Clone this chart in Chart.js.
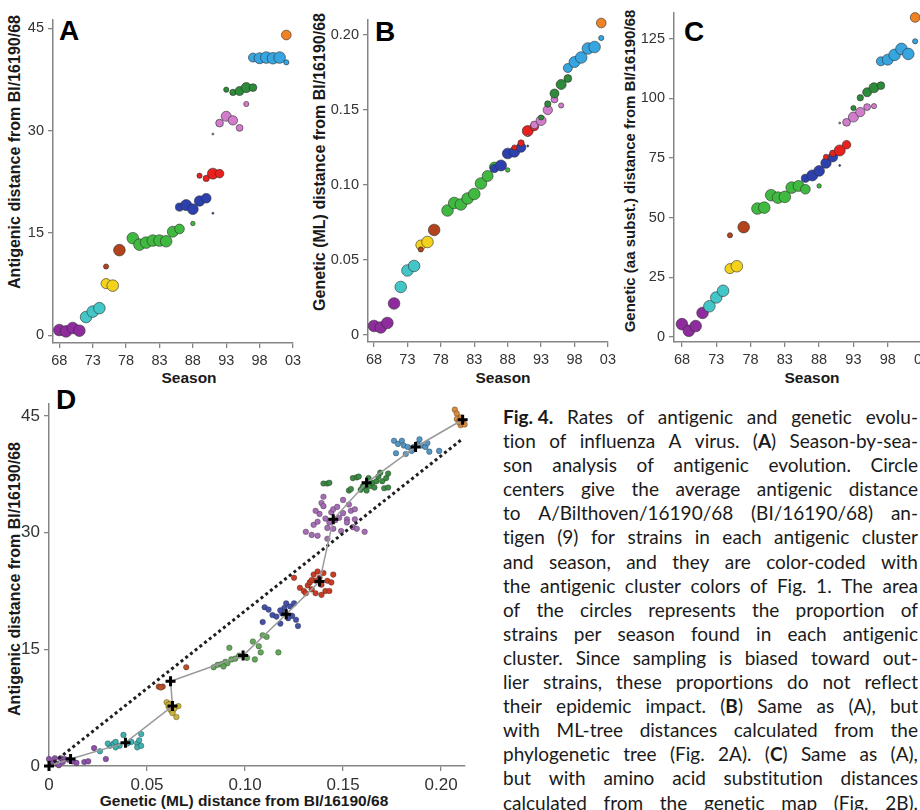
<!DOCTYPE html>
<html><head><meta charset="utf-8">
<script src="https://cdn.jsdelivr.net/npm/chart.js@4.4.1/dist/chart.umd.min.js"></script>
<style>
html,body{margin:0;padding:0;width:920px;height:810px;overflow:hidden;background:#fff;position:relative;}
canvas{position:absolute;}
.t{position:absolute;font-family:'Liberation Sans',Arial,sans-serif;font-weight:bold;color:#1a1a1a;white-space:nowrap;line-height:16px;font-size:15.5px;}
.yt{transform:translate(-50%,-50%) rotate(-90deg);}
.xt{transform:translateX(-50%);}
.L{position:absolute;font-family:'Liberation Sans',Arial,sans-serif;font-weight:bold;font-size:28px;line-height:28px;color:#000;}
#cap{position:absolute;left:503px;top:405px;width:415px;font-family:Lato,'Noto Sans',sans-serif;font-size:19px;line-height:24.1px;color:#1a1a1a;font-variant-ligatures:none;font-feature-settings:"liga" 0;}
#cap div{display:flex;justify-content:space-between;white-space:nowrap;height:24.1px;}
</style></head>
<body>
<div class="L" style="left:59px;top:17px;">A</div>
<div class="L" style="left:375px;top:18px;">B</div>
<div class="L" style="left:684px;top:18px;">C</div>
<div class="L" style="left:56px;top:386px;">D</div>
<div class="t yt" style="left:15px;top:152px;font-size:16px;">Antigenic distance from BI/16190/68</div>
<div class="t yt" style="left:320px;top:162px;font-size:16px;">Genetic (ML) distance from BI/16190/68</div>
<div class="t yt" style="left:630px;top:171px;font-size:15px;">Genetic (aa subst.) distance from BI/16190/68</div>
<div class="t yt" style="left:15px;top:579px;font-size:16px;">Antigenic distance from BI/16190/68</div>
<div class="t xt" style="left:189px;top:370px;">Season</div>
<div class="t xt" style="left:503px;top:370px;">Season</div>
<div class="t xt" style="left:812px;top:370px;">Season</div>
<div class="t xt" style="left:244px;top:793px;">Genetic (ML) distance from BI/16190/68</div>
<div id="cap">
<div><b>Fig.&nbsp;4.</b> Rates of antigenic and genetic evolu-</div>
<div>tion of influenza A virus. (<b>A</b>) Season-by-sea-</div>
<div>son analysis of antigenic evolution. Circle</div>
<div>centers give the average antigenic distance</div>
<div>to A/Bilthoven/16190/68 (BI/16190/68) an-</div>
<div>tigen (9) for strains in each antigenic cluster</div>
<div>and season, and they are color-coded with</div>
<div>the antigenic cluster colors of Fig. 1. The area</div>
<div>of the circles represents the proportion of</div>
<div>strains per season found in each antigenic</div>
<div>cluster. Since sampling is biased toward out-</div>
<div>lier strains, these proportions do not reflect</div>
<div>their epidemic impact. (<b>B</b>) Same as (A), but</div>
<div>with ML-tree distances calculated from the</div>
<div>phylogenetic tree (Fig. 2A). (<b>C</b>) Same as (A),</div>
<div>but with amino acid substitution distances</div>
<div>calculated from the genetic map (Fig. 2B).</div>
</div>
<script>
// justify caption lines word by word
document.querySelectorAll('#cap div').forEach(d => {
  d.innerHTML = d.innerHTML.trim().split(' ').map(w => '<span>' + w + '</span>').join('');
});

// ---------- tick labels ----------
const seasonTicks = [68,73,78,83,88,93,98,103];
const seasonLabels = ['68','73','78','83','88','93','98','03'];
const antigenicTicks = [0,15,30,45];
const antigenicLabels = ['0','15','30','45'];
const mlTicks = [0,0.05,0.10,0.15,0.20];
const mlLabels = ['0','0.05','0.10','0.15','0.20'];
const aaTicks = [0,25,50,75,100,125];
const aaLabels = ['0','25','50','75','100','125'];

// ---------- panels A-C: per cluster, per season ----------
// season, share of season's strains, antigenic (A), genetic ML (B), aa subst. (C)
const hk68Season = [68,69,70,71];
const hk68Share  = [1,1,1,1];
const hk68A = [0.8,0.6,1.1,0.7];
const hk68B = [0.006,0.005,0.008,0.021];
const hk68C = [5.3,2.5,4.5,10];

const en72Season = [72,73,74];
const en72Share  = [1,1,1];
const en72A = [2.7,3.5,4.0];
const en72B = [0.032,0.043,0.046];
const en72C = [12.8,16.5,19.3];

const vi75Season = [75,76];
const vi75Share  = [0.75,1];
const vi75A = [7.6,7.3];
const vi75B = [0.060,0.062];
const vi75C = [28.6,29.6];

const tx77Season = [75,77];
const tx77Share  = [0.2,1];
const tx77A = [10.1,12.5];
const tx77B = [0.057,0.070];
const tx77C = [42.6,46.0];

const bk79Season = [79,80,81,82,83,84,85,86,88];
const bk79Share  = [1,1,1,1,1,1,0.9,0.7,0.15];
const bk79A = [14.25,13.3,13.6,13.9,13.9,13.8,15.2,15.6,16.4];
const bk79B = [0.083,0.088,0.087,0.091,0.094,0.101,0.106,0.112,0.110];
const bk79C = [53.8,54.2,59.4,58.4,58.7,62.6,63.3,61.9,63.3];

const si87Season = [86,87,88,89,90,91];
const si87Share  = [0.5,0.9,0.85,0.8,0.7,0.03];
const si87A = [18.8,19.1,18.5,19.7,20.1,17.9];
const si87B = [0.111,0.113,0.121,0.122,0.125,0.126];
const si87C = [66.5,67.7,69.6,72.9,75.4,71.9];

const be89Season = [89,90,91,92];
const be89Share  = [0.2,0.3,0.9,0.55];
const be89A = [23.4,23.0,23.7,23.7];
const be89B = [0.125,0.128,0.136,0.139];
const be89C = [75.5,77.0,78.2,80.6];

const be92Season = [91,92,93,94,95,96];
const be92Share  = [0.03,0.45,0.75,0.65,0.35,0.2];
const be92A = [29.5,31.1,32.1,31.5,30.4,33.9];
const be92B = [0.133,0.140,0.143,0.150,0.157,0.153];
const be92C = [89.7,90.0,92.2,94.3,96.4,96.8];

const wu95Season = [93,94,95,96,97];
const wu95Share  = [0.2,0.3,0.6,0.75,0.45];
const wu95A = [36.0,35.6,35.8,36.3,36.3];
const wu95B = [0.145,0.154,0.161,0.167,0.171];
const wu95C = [96.0,100.3,102.6,104.5,105.4];

const sy97Season = [97,98,99,100,101,102];
const sy97Share  = [0.6,0.9,1,1,1,0.2];
const sy97A = [40.7,40.6,40.7,40.6,40.7,40.0];
const sy97B = [0.178,0.182,0.185,0.191,0.192,0.198];
const sy97C = [115.6,116.3,118.3,120.8,118.7,124.0];

const fu02Season = [102];
const fu02Share  = [0.7];
const fu02A = [44.0];
const fu02B = [0.208];
const fu02C = [134];

// ---------- panel D: individual strains [genetic ML, antigenic] ----------
const hk68D = [[0.000,0.9],[0.003,1.0],[0.006,1.0],[0.008,0.9],[0.002,0.4],[0.004,0.3],[0.007,0.5],[0.010,0.8],[0.012,0.6],[0.018,0.5],[0.020,0.6],[0.023,2.3],[0.029,0.9],[0.005,0.1],[0.014,0.4]];
const en72D = [[0.026,1.9],[0.031,2.6],[0.033,2.9],[0.034,3.1],[0.036,2.6],[0.038,4.0],[0.040,2.9],[0.042,3.1],[0.045,2.9],[0.046,3.3],[0.047,4.1],[0.045,2.4],[0.047,2.6],[0.034,2.4],[0.030,2.9]];
const vi75D = [[0.060,8.2],[0.061,7.6],[0.062,7.2],[0.063,7.0],[0.064,7.4],[0.066,7.7],[0.065,6.3],[0.062,8.0],[0.063,6.8],[0.061,7.9]];
const tx77D = [[0.056,10.2],[0.058,10.2],[0.057,10.1],[0.070,12.7]];
const bk79D = [[0.084,12.7],[0.086,13.0],[0.088,13.1],[0.090,13.4],[0.092,15.2],[0.093,13.7],[0.095,13.8],[0.097,14.2],[0.101,13.9],[0.104,16.0],[0.105,13.7],[0.107,15.4],[0.108,14.6],[0.109,16.8],[0.111,16.6],[0.117,14.6],[0.091,13.2],[0.089,12.8]];
const si87D = [[0.109,18.5],[0.110,20.4],[0.112,20.1],[0.114,19.4],[0.116,19.2],[0.118,18.3],[0.119,19.6],[0.120,20.3],[0.121,20.9],[0.123,20.5],[0.125,20.9],[0.124,19.3],[0.126,18.8],[0.127,18.0],[0.122,19.0],[0.118,20.0]];
const be89D = [[0.125,24.2],[0.128,22.9],[0.130,22.5],[0.131,22.2],[0.132,23.2],[0.133,23.6],[0.134,22.7],[0.135,24.6],[0.136,23.8],[0.137,25.0],[0.138,24.2],[0.139,23.3],[0.140,24.8],[0.141,22.5],[0.142,23.8],[0.143,22.5],[0.144,23.6],[0.145,24.6],[0.136,22.2],[0.139,22.0],[0.134,23.9]];
const be92D = [[0.131,30.1],[0.134,29.7],[0.135,31.0],[0.137,29.6],[0.137,31.4],[0.138,32.4],[0.139,33.8],[0.140,34.6],[0.140,33.4],[0.141,31.8],[0.142,30.6],[0.143,31.3],[0.144,32.6],[0.145,30.5],[0.145,33.0],[0.146,31.6],[0.147,33.3],[0.148,31.9],[0.149,30.2],[0.150,34.2],[0.150,32.5],[0.152,31.7],[0.152,31.3],[0.153,33.6],[0.154,32.8],[0.155,30.7],[0.156,33.0],[0.156,31.7],[0.157,30.5],[0.161,30.1],[0.142,29.2],[0.136,32.8]];
const wu95D = [[0.140,36.3],[0.142,36.3],[0.143,36.4],[0.153,35.4],[0.154,35.6],[0.155,37.0],[0.157,37.1],[0.158,37.2],[0.159,35.5],[0.160,35.9],[0.162,35.4],[0.164,36.0],[0.165,36.4],[0.166,35.8],[0.167,36.6],[0.168,37.2],[0.169,37.7],[0.170,36.6],[0.171,35.7],[0.172,37.0],[0.173,37.6],[0.173,35.8],[0.163,37.0]];
const sy97D = [[0.176,41.8],[0.177,40.2],[0.178,41.4],[0.180,41.8],[0.181,41.2],[0.182,40.1],[0.183,41.0],[0.185,40.5],[0.186,41.0],[0.188,41.4],[0.189,42.0],[0.190,41.2],[0.192,41.0],[0.193,41.5],[0.194,40.4],[0.199,40.5]];
const fu02D = [[0.207,45.8],[0.208,45.3],[0.210,44.8],[0.208,44.6],[0.211,44.3],[0.210,43.8],[0.212,43.9],[0.209,44.2]];
const centersD = [[0,0],[0.011,0.9],[0.039,3.0],[0.063,7.7],[0.062,10.9],[0.099,14.2],[0.121,19.5],[0.138,23.7],[0.145,31.7],[0.162,36.4],[0.187,41.0],[0.211,44.5]];
const refLineD = [[0,0],[0.2107,42.0]];

// ---------- cluster table ----------
const clusters = [
  {season:hk68Season, share:hk68Share, A:hk68A, B:hk68B, C:hk68C, D:hk68D, col:'#8e2c9e', colD:'#8a52a6'},
  {season:en72Season, share:en72Share, A:en72A, B:en72B, C:en72C, D:en72D, col:'#43c6c8', colD:'#3fb0b0'},
  {season:vi75Season, share:vi75Share, A:vi75A, B:vi75B, C:vi75C, D:vi75D, col:'#f3d21c', colD:'#c9b23e'},
  {season:tx77Season, share:tx77Share, A:tx77A, B:tx77B, C:tx77C, D:tx77D, col:'#b4421c', colD:'#b8522e'},
  {season:bk79Season, share:bk79Share, A:bk79A, B:bk79B, C:bk79C, D:bk79D, col:'#40b940', colD:'#62a858'},
  {season:si87Season, share:si87Share, A:si87A, B:si87B, C:si87C, D:si87D, col:'#2c40ae', colD:'#4551a6'},
  {season:be89Season, share:be89Share, A:be89A, B:be89B, C:be89C, D:be89D, col:'#e8211e', colD:'#c83d24'},
  {season:be92Season, share:be92Share, A:be92A, B:be92B, C:be92C, D:be92D, col:'#d27ccc', colD:'#a66db6'},
  {season:wu95Season, share:wu95Share, A:wu95A, B:wu95B, C:wu95C, D:wu95D, col:'#2e8b3a', colD:'#3c8a44'},
  {season:sy97Season, share:sy97Share, A:sy97A, B:sy97B, C:sy97C, D:sy97D, col:'#36a5e0', colD:'#5296c6'},
  {season:fu02Season, share:fu02Share, A:fu02A, B:fu02B, C:fu02C, D:fu02D, col:'#f08226', colD:'#d88a40'}
];

const FONT = "'Liberation Sans', Arial, sans-serif";
function axis(min, max, ticks, labels, size) {
  return {
    type:'linear', min:min, max:max,
    afterBuildTicks: s => { s.ticks = ticks.map(v => ({value:v})); },
    ticks:{autoSkip:false, maxRotation:0, padding:4, color:'#333', font:{family:FONT, size:size}, callback:(v,i) => labels[i]},
    grid:{drawOnChartArea:false, drawTicks:true, tickLength:5, color:'#858585', lineWidth:1.3},
    border:{display:true, color:'#858585', width:1.5}
  };
}
function mk(left, top, W, H, area, type, datasets, xs, ys) {
  const c = document.createElement('canvas');
  c.width = W; c.height = H;
  c.style.left = left + 'px'; c.style.top = top + 'px';
  c.style.width = W + 'px'; c.style.height = H + 'px';
  document.body.appendChild(c);
  xs.afterFit = s => { s.height = H - area.bottom; };
  ys.afterFit = s => { s.width = area.left; };
  new Chart(c, {type:type, data:{datasets:datasets}, options:{
    responsive:false, animation:false, events:[], devicePixelRatio:1,
    layout:{padding:{top:area.top, right:W - area.right, left:0, bottom:0}},
    plugins:{legend:{display:false}, tooltip:{enabled:false}},
    scales:{x:xs, y:ys}
  }});
}
function bubbles(key) {
  return clusters.map((c, i) => ({
    data: c.season.map((s, j) => ({x:s, y:c[key][j], r:5.8 * Math.sqrt(c.share[j])})),
    backgroundColor:c.col, borderColor:'rgba(45,45,45,0.75)', borderWidth:0.8,
    clip:false, order:-i
  }));
}

mk(0, 0, 310, 390, {left:53, right:293, top:20, bottom:343}, 'bubble', bubbles('A'),
   axis(67.05, 103, seasonTicks, seasonLabels, 14.5), axis(-1.1, 46.2, antigenicTicks, antigenicLabels, 14.5));
mk(300, 0, 320, 390, {left:68, right:312, top:20, bottom:342}, 'bubble', bubbles('B'),
   axis(67.1, 103, seasonTicks, seasonLabels, 14.5), axis(-0.0047, 0.21, mlTicks, mlLabels, 14.5));
mk(610, 0, 330, 390, {left:64, right:312, top:12, bottom:342}, 'bubble', bubbles('C'),
   axis(66.84, 103, seasonTicks, seasonLabels, 14.5), axis(-2.2, 136, aaTicks, aaLabels, 14.5));

const dSets = clusters.map((c, i) => ({
  type:'scatter', data:c.D.map(p => ({x:p[0], y:p[1]})),
  pointRadius:2.8, pointBackgroundColor:c.colD, pointBorderColor:'rgba(30,30,30,0.45)', pointBorderWidth:0.7,
  clip:false, order:3
}));
dSets.push({type:'line', data:refLineD.map(p => ({x:p[0], y:p[1]})), borderColor:'#1e1e1e', borderWidth:3, borderDash:[3,3], borderCapStyle:'butt', pointRadius:0, clip:false, order:2});
dSets.push({type:'line', data:centersD.map(p => ({x:p[0], y:p[1]})), borderColor:'#9a9a9a', borderWidth:1.5, pointRadius:0, clip:false, order:1});
dSets.push({type:'scatter', data:centersD.map(p => ({x:p[0], y:p[1]})), pointStyle:'cross', pointRadius:5, pointBorderColor:'#000', pointBorderWidth:3, clip:false, order:0});

mk(0, 390, 480, 420, {left:49, right:465, top:5, bottom:376}, 'scatter', dSets,
   axis(0, 0.2122, mlTicks, mlLabels, 17), axis(0, 46.5, antigenicTicks, antigenicLabels, 17));
</script>
</body></html>
